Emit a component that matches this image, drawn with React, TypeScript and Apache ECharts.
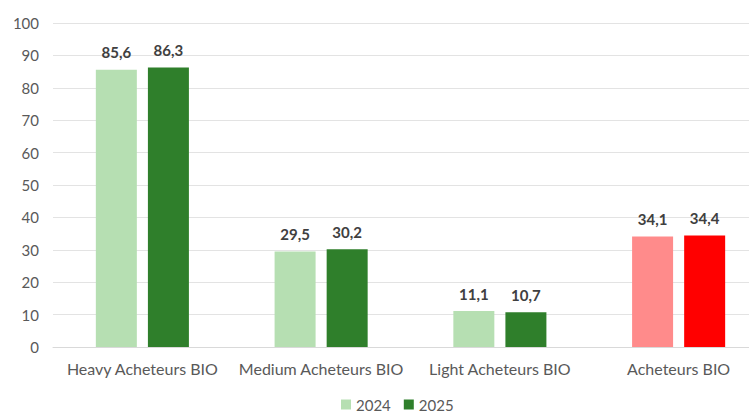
import React, { useEffect, useRef } from "react";
import * as echarts from "echarts";

const categories = ["Heavy Acheteurs BIO", "Medium Acheteurs BIO", "Light Acheteurs BIO", "Acheteurs BIO"];
const values2024 = [85.6, 29.5, 11.1, 34.1];
const values2025 = [86.3, 30.2, 10.7, 34.4];
const seriesNames = ["2024", "2025"];
const yTicks = { min: 0, max: 100, interval: 10 };

const FONT = "Lato, 'Open Sans', sans-serif";
const light = "#b6dfb2";
const dark = "#2f7f2b";
const lightRed = "#ff8b8b";
const red = "#ff0000";

export default function App() {
  const ref = useRef<HTMLDivElement>(null);
  useEffect(() => {
    if (!ref.current) return;
    const chart = echarts.init(ref.current, undefined, { renderer: "svg" });
    const fmt = (p: any) => String(p.value).replace(".", ",");
    const label = {
      show: true,
      position: "top",
      distance: 10,
      formatter: fmt,
      fontFamily: FONT,
      fontSize: 15,
      fontWeight: "bold",
      color: "#404040",
    };
    const mk = (vals: number[], base: string, last: string) =>
      vals.map((v, i) => (i === vals.length - 1 ? { value: v, itemStyle: { color: last } } : { value: v, itemStyle: { color: base } }));
    chart.setOption({
      animation: false,
      backgroundColor: "#ffffff",
      textStyle: { fontFamily: FONT },
      grid: { left: 53, right: 0, top: 23, bottom: 69, containLabel: false },
      legend: {
        data: seriesNames,
        left: 341,
        top: 397,
        padding: 0,
        itemWidth: 10,
        itemHeight: 10,
        itemGap: 13,
        icon: "rect",
        textStyle: { fontFamily: FONT, fontSize: 15, color: "#595959" },
      },
      xAxis: {
        type: "category",
        data: categories,
        axisTick: { show: false },
        axisLine: { lineStyle: { color: "#d9d9d9", width: 1 } },
        axisLabel: { fontFamily: FONT, fontSize: 16, color: "#595959", margin: 13, interval: 0 },
      },
      yAxis: {
        type: "value",
        min: yTicks.min,
        max: yTicks.max,
        interval: yTicks.interval,
        axisLine: { show: false },
        axisTick: { show: false },
        splitLine: { lineStyle: { color: "#e3e3e3", width: 1 } },
        axisLabel: { fontFamily: FONT, fontSize: 15, color: "#595959", margin: 14 },
      },
      series: [
        {
          name: seriesNames[0],
          type: "bar",
          data: mk(values2024, light, lightRed),
          itemStyle: { color: light },
          barWidth: 41,
          barGap: "27%",
          label,
        },
        {
          name: seriesNames[1],
          type: "bar",
          data: mk(values2025, dark, red),
          itemStyle: { color: dark },
          barWidth: 41,
          barGap: "27%",
          label,
        },
      ],
    });
    return () => chart.dispose();
  }, []);
  return (
    <div style={{ position: "fixed", left: 0, top: 0, width: 749, height: 416, overflow: "hidden", background: "#fff" }}>
      <div ref={ref} style={{ width: 768, height: 416 }} />
    </div>
  );
}
